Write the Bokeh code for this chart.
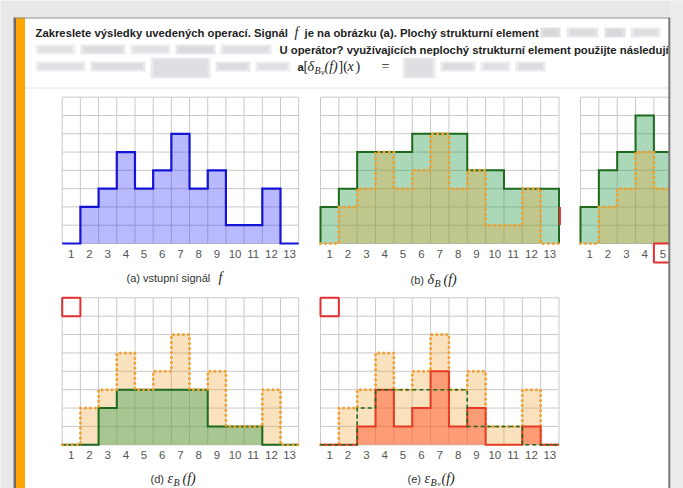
from bokeh.plotting import figure
from bokeh.models import Range1d
from bokeh.embed import file_html
from bokeh.resources import INLINE
from bokeh.core.properties import value

# ---------------- data ----------------
cols = list(range(1, 14))
tick_labels = [str(c) for c in cols]
n_rows = 8
f_signal = [0, 2, 3, 5, 3, 4, 6, 3, 4, 1, 1, 3, 0]
dil_flat = [2, 3, 5, 5, 5, 6, 6, 6, 4, 4, 3, 3, 3]
dil_nonflat = [2, 4, 5, 7, 5]          # panel (c): only columns 1-5 visible
ero_flat = [0, 0, 2, 3, 3, 3, 3, 3, 1, 1, 1, 0, 0]
ero_nonflat = [0, 0, 1, 3, 1, 2, 4, 1, 2, 0, 0, 1, 0]

# ---------------- page figure ----------------
X0, X1, Y0, Y1 = 0, 683, 0, 488
p = figure(width=X1 - X0, height=Y1 - Y0, output_backend="svg", toolbar_location=None,
           x_range=Range1d(X0, X1), y_range=Range1d(Y1, Y0), min_border=0,
           x_axis_type=None, y_axis_type=None)
p.outline_line_color = None
p.grid.visible = False
p.background_fill_color = "#e8e8e8"
p.border_fill_color = "#e8e8e8"

SANS = value("Liberation Sans")
SERIF = value("Liberation Serif")


def label(x, y, s, size="11px", style="normal", font=SANS, color="#222222",
          align="left", xr="default", yr="default"):
    p.text(x=[x], y=[y], text=[s], text_font=font, text_font_style=style,
           text_font_size=size, text_color=color, text_align=align,
           text_baseline="middle", x_range_name=xr, y_range_name=yr)


# white box, borders, orange bar
p.quad(left=[13], right=[669], top=[17], bottom=[500], fill_color="white", line_color=None)
p.quad(left=[13], right=[15.5], top=[17], bottom=[500], fill_color="#6b6b6b", line_color=None)
p.quad(left=[15.5], right=[24.5], top=[17], bottom=[500], fill_color="#ffa500", line_color=None)
p.segment(x0=[13], y0=[17.5], x1=[669], y1=[17.5], line_color="#8c8c8c", line_width=1)
p.segment(x0=[25], y0=[87.5], x1=[668], y1=[87.5], line_color="#e4e4e4", line_width=1)

# blurred parts of the header (soft smudges)
blur_l = [540, 566, 604, 630, 35, 80, 130, 175, 220, 35, 90, 150, 215, 255, 402, 440, 480, 515]
blur_r = [560, 598, 625, 660, 75, 125, 170, 215, 271, 85, 145, 210, 250, 290, 435, 475, 510, 545]
blur_t = [27, 27, 27, 27, 44, 44, 44, 44, 44, 61, 61, 57, 61, 61, 57, 61, 61, 61]
blur_b = [37, 37, 37, 37, 54, 54, 54, 54, 54, 71, 71, 78, 71, 71, 78, 71, 71, 71]
blur_a = [0.35, 0.25, 0.32, 0.22, 0.18, 0.25, 0.2, 0.28, 0.22, 0.2, 0.26, 0.22, 0.26, 0.2, 0.22, 0.26, 0.2, 0.26]
p.quad(left=blur_l, right=blur_r, top=blur_t, bottom=blur_b, fill_color="#a9a9b2",
       fill_alpha=blur_a, line_color=None)
p.quad(left=[l + 3 for l in blur_l], right=[r - 3 for r in blur_r],
       top=[t + 2 for t in blur_t], bottom=[b - 2 for b in blur_b], fill_color="#a9a9b2",
       fill_alpha=0.2, line_color=None)

# header text
HB = dict(size="11.3px", style="bold", color="#1e1e1e")
label(35, 32, "Zakreslete výsledky uvedených operací. Signál", **HB)
label(294, 32, "f", size="14px", style="italic", font=SERIF)
label(304, 32, "je na obrázku (a). Plochý strukturní element", **HB)
label(279, 49, "U operátor? využívajících neplochý strukturní element použijte následující", **HB)
label(297, 66, "a", **HB)
label(303, 66, "[", size="14px", font=SERIF)
label(307, 66, "δ", size="14px", style="italic", font=SERIF)
label(314, 70, "B", size="10px", style="italic", font=SERIF)
label(320.5, 72, "v", size="8px", style="italic", font=SERIF)
label(324, 66, "(f)", size="14px", style="italic", font=SERIF)
label(338, 66, "](", size="14px", font=SERIF)
label(347, 66, "x", size="14px", style="italic", font=SERIF)
label(355, 66, ")", size="14px", font=SERIF)
label(381, 66, "=", size="14px", font=SERIF)

# ---------------- panels ----------------
GRID = "#c9c9c9"
BLUE_L, BLUE_F = "#1414d4", "#2a2aff"
GREEN_L, GREEN_F = "#1d6a1d", "#2e9e4e"
ORANGE_L, ORANGE_F = "#f0a030", "#f0a028"
RED_L, RED_F = "#e63a22", "#ff4a22"

panels = {
    "a": (61.7, 298.2, 96.7, 243.0),
    "b": (320.0, 558.5, 96.7, 243.0),
    "c": (580.0, 818.5, 96.7, 243.0),
    "d": (61.7, 298.2, 297.3, 444.3),
    "e": (320.0, 558.5, 297.3, 444.3),
}
xrs, yrs = {}, {}
for name, (L, R, T, B) in panels.items():
    kx = len(cols) / (R - L)
    ky = n_rows / (B - T)
    xrs[name] = Range1d(0.5 - (L - X0) * kx, len(cols) + 0.5 + (X1 - R) * kx)
    yrs[name] = Range1d(0 - (Y1 - B) * ky, n_rows + (T - Y0) * ky)
p.extra_x_ranges = xrs
p.extra_y_ranges = yrs


def step_path(vals):
    px, py = [cols[0] - 0.5], [0]
    for c, v in zip(cols, vals):
        px += [c - 0.5, c + 0.5]
        py += [v, v]
    px.append(cols[len(vals) - 1] + 0.5)
    py.append(0)
    return px, py


def grid(name, ticks_n=len(cols)):
    vx = [c - 0.5 for c in cols] + [cols[-1] + 0.5]
    p.segment(x0=vx, y0=[0] * len(vx), x1=vx, y1=[n_rows] * len(vx), line_color=GRID,
              line_width=1, x_range_name=name, y_range_name=name)
    hy = list(range(n_rows + 1))
    p.segment(x0=[cols[0] - 0.5] * len(hy), y0=hy, x1=[cols[-1] + 0.5] * len(hy), y1=hy,
              line_color=GRID, line_width=1, x_range_name=name, y_range_name=name)
    p.text(x=cols[:ticks_n], y=[-0.55] * ticks_n, text=tick_labels[:ticks_n],
           text_font=SANS, text_font_size="11.5px", text_color="#555555",
           text_align="center", text_baseline="middle", x_range_name=name, y_range_name=name)


def fill(name, vals, color, alpha):
    px, py = step_path(vals)
    p.patch(px, py, fill_color=color, fill_alpha=alpha, line_color=None,
            x_range_name=name, y_range_name=name)


def outline(name, vals, color, width=2.0, dash="solid", cap="butt"):
    px, py = step_path(vals)
    p.line(px, py, line_color=color, line_width=width, line_dash=dash, line_cap=cap,
           line_join="miter", x_range_name=name, y_range_name=name)


def dotted(name, vals):
    outline(name, vals, ORANGE_L, width=3.0, dash="0 5", cap="round")


def red_square(name):
    p.quad(left=[cols[0] - 0.5], right=[cols[0] + 0.5], top=[n_rows], bottom=[n_rows - 1],
           fill_color=None, line_color="#e03030", line_width=2,
           x_range_name=name, y_range_name=name)


# (a) input signal
grid("a")
fill("a", f_signal, BLUE_F, 0.33)
outline("a", f_signal, BLUE_L, 2.2)

# (b) flat dilation
grid("b")
fill("b", dil_flat, GREEN_F, 0.4)
fill("b", f_signal, ORANGE_F, 0.3)
outline("b", dil_flat, GREEN_L)
dotted("b", f_signal)
p.segment(x0=[cols[-1] + 0.55], y0=[1], x1=[cols[-1] + 0.55], y1=[2], line_color="#e03030",
          line_width=2, x_range_name="b", y_range_name="b")

# (c) non-flat dilation (cut off at the right)
grid("c", ticks_n=5)
fill("c", dil_nonflat, GREEN_F, 0.4)
fill("c", f_signal[:len(dil_nonflat)], ORANGE_F, 0.3)
outline("c", dil_nonflat, GREEN_L)
dotted("c", f_signal[:len(dil_nonflat)])
p.quad(left=[4.5], right=[5.5], top=[0], bottom=[-1.04], fill_color=None,
       line_color="#e03030", line_width=2, x_range_name="c", y_range_name="c")

# (d) flat erosion
grid("d")
fill("d", f_signal, ORANGE_F, 0.3)
fill("d", ero_flat, GREEN_F, 0.4)
outline("d", ero_flat, GREEN_L)
dotted("d", f_signal)
red_square("d")

# (e) non-flat erosion
grid("e")
fill("e", f_signal, ORANGE_F, 0.3)
fill("e", ero_nonflat, RED_F, 0.45)
dotted("e", f_signal)
outline("e", ero_nonflat, RED_L)
outline("e", ero_flat, GREEN_L, width=1.6, dash="4 3")
red_square("e")

# captions
CAP = dict(size="11px", color="#333333")
label(126, 277, "(a) vstupní signál", **CAP)
label(218, 277, "f", size="14px", style="italic", font=SERIF)

label(410, 279, "(b)", **CAP)
label(427, 279, "δ", size="14px", style="italic", font=SERIF)
label(434, 283, "B", size="10px", style="italic", font=SERIF)
label(443, 279, "(f)", size="14px", style="italic", font=SERIF)

label(150, 478, "(d)", **CAP)
label(167, 478, "ε", size="14px", style="italic", font=SERIF)
label(173, 482, "B", size="10px", style="italic", font=SERIF)
label(182, 478, "(f)", size="14px", style="italic", font=SERIF)

label(407, 478, "(e)", **CAP)
label(424, 478, "ε", size="14px", style="italic", font=SERIF)
label(430, 481.5, "B", size="10px", style="italic", font=SERIF)
label(437, 483, "v", size="7px", style="italic", font=SERIF)
label(441, 478, "(f)", size="14px", style="italic", font=SERIF)

# right side of the box: clip overflow and draw the border
p.quad(left=[669.5], right=[690], top=[0], bottom=[500], fill_color="#ececec", line_color=None)
p.segment(x0=[668.8], y0=[17], x1=[668.8], y1=[500], line_color="#7a7a7a", line_width=2)

open("out.html", "w").write(file_html(p, INLINE))
